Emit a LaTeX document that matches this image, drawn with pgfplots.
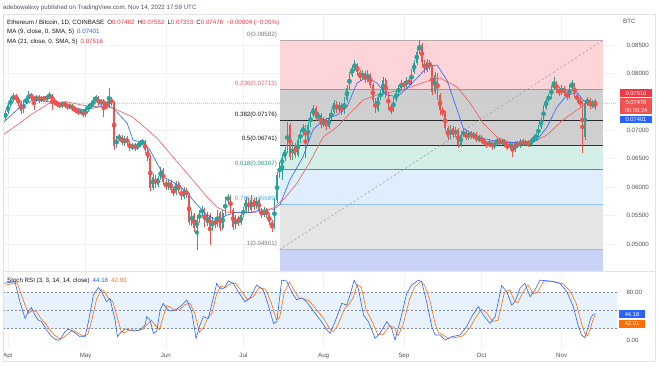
\documentclass[border=0pt]{standalone}
\usepackage{pgfplots}
\pgfplotsset{compat=1.18}
\usepackage{pgfplotstable}
\usepackage{fontspec}
\setmainfont{Liberation Sans}
\newcommand\fs{\fontsize{6.2}{7}\selectfont}
\newcommand\fb{\fontsize{5.8}{6}\selectfont}
\definecolor{upc}{HTML}{26A69A}
\definecolor{dnc}{HTML}{EF5350}
\definecolor{redt}{HTML}{F23645}
\definecolor{ma9}{HTML}{2962FF}
\definecolor{ma21}{HTML}{EE5A5F}
\definecolor{fibr}{HTML}{FDD4D7}
\definecolor{fibg}{HTML}{CFCFCF}
\definecolor{fibt}{HTML}{D3EFE8}
\definecolor{fibb}{HTML}{DFEEFD}
\definecolor{fibgl}{HTML}{E5E5E5}
\definecolor{fibl}{HTML}{C9D2F7}
\definecolor{lz}{HTML}{B9A9AC}
\definecolor{l236}{HTML}{D97C83}
\definecolor{l618}{HTML}{3FA08F}
\definecolor{l786}{HTML}{8EC3F3}
\definecolor{l1}{HTML}{AEB6D6}
\definecolor{t236}{HTML}{E8606B}
\definecolor{t618}{HTML}{2E9C88}
\definecolor{t786}{HTML}{5AAEF5}
\definecolor{tgray}{HTML}{787B86}
\definecolor{tdark}{HTML}{131722}
\definecolor{tickc}{HTML}{50535E}
\definecolor{gridc}{HTML}{F0F2F6}
\definecolor{framec}{HTML}{E0E3EB}
\definecolor{bandc}{HTML}{E8F2FD}
\definecolor{dashc}{HTML}{8A8D96}
\definecolor{orng}{HTML}{FF6D00}
\definecolor{pline}{HTML}{F7B9BD}

\pgfplotstableread{
d o h l c
-1 0.0722 0.0736 0.0716 0.0732
0 0.0732 0.0748 0.0729 0.0744
1 0.0744 0.0759 0.0741 0.0753
2 0.0753 0.0766 0.0750 0.0760
6 0.0734 0.0753 0.0730 0.0750
7 0.0750 0.0759 0.0746 0.0753
8 0.0753 0.0769 0.0750 0.0764
11 0.0753 0.0762 0.0750 0.0759
13 0.0753 0.0760 0.0750 0.0757
15 0.0755 0.0762 0.0752 0.0759
16 0.0759 0.0767 0.0755 0.0762
21 0.0743 0.0752 0.0739 0.0748
24 0.0741 0.0746 0.0737 0.0743
28 0.0732 0.0737 0.0729 0.0734
30 0.0727 0.0741 0.0723 0.0736
31 0.0736 0.0746 0.0732 0.0743
32 0.0743 0.0750 0.0739 0.0744
33 0.0744 0.0759 0.0741 0.0753
34 0.0753 0.0762 0.0750 0.0757
36 0.0746 0.0755 0.0743 0.0752
39 0.0743 0.0774 0.0739 0.0755
42 0.0672 0.0690 0.0669 0.0686
43 0.0686 0.0694 0.0681 0.0688
45 0.0678 0.0690 0.0672 0.0686
48 0.0669 0.0678 0.0665 0.0674
50 0.0669 0.0678 0.0665 0.0674
51 0.0674 0.0683 0.0671 0.0678
52 0.0678 0.0685 0.0674 0.0679
56 0.0599 0.0623 0.0595 0.0618
58 0.0604 0.0620 0.0600 0.0616
59 0.0616 0.0635 0.0613 0.0630
62 0.0600 0.0614 0.0595 0.0609
65 0.0592 0.0611 0.0586 0.0607
68 0.0583 0.0600 0.0579 0.0595
71 0.0539 0.0558 0.0532 0.0551
73 0.0528 0.0551 0.04901 0.0542
74 0.0542 0.0560 0.0537 0.0555
75 0.0555 0.0567 0.0549 0.0560
77 0.0537 0.0556 0.0532 0.0551
79 0.0528 0.0548 0.0523 0.0542
81 0.0533 0.0560 0.0530 0.0555
83 0.0528 0.0560 0.0525 0.0555
84 0.0555 0.0583 0.0551 0.0577
85 0.0577 0.0588 0.0572 0.0583
88 0.0530 0.0551 0.0526 0.0546
90 0.0537 0.0556 0.0533 0.0551
91 0.0551 0.0565 0.0548 0.0560
92 0.0560 0.0583 0.0556 0.0577
94 0.0560 0.0586 0.0556 0.0577
96 0.0565 0.0583 0.0562 0.0577
99 0.0551 0.0565 0.0548 0.0560
103 0.0530 0.0581 0.0526 0.0577
104 0.0577 0.0627 0.0572 0.0621
105 0.0621 0.0644 0.0616 0.0639
106 0.0639 0.0657 0.0613 0.0651
107 0.0651 0.0671 0.0646 0.0665
108 0.0665 0.0715 0.0660 0.0709
110 0.0653 0.0679 0.0648 0.0674
112 0.0657 0.0688 0.0653 0.0683
113 0.0683 0.0701 0.0678 0.0695
114 0.0695 0.0711 0.0690 0.0706
116 0.0683 0.0715 0.0679 0.0709
117 0.0709 0.0732 0.0706 0.0727
118 0.0727 0.0744 0.0723 0.0739
120 0.0722 0.0732 0.0716 0.0727
122 0.0709 0.0723 0.0706 0.0718
124 0.0706 0.0727 0.0702 0.0722
125 0.0722 0.0737 0.0718 0.0732
126 0.0732 0.0753 0.0729 0.0748
128 0.0736 0.0750 0.0732 0.0744
130 0.0732 0.0759 0.0729 0.0753
131 0.0753 0.0780 0.0750 0.0774
132 0.0774 0.0803 0.0771 0.0797
133 0.0797 0.0815 0.0794 0.0810
134 0.0810 0.0824 0.0804 0.0815
137 0.0792 0.0806 0.0788 0.0801
139 0.0788 0.0806 0.0785 0.0797
143 0.0736 0.0764 0.0732 0.0759
144 0.0759 0.0771 0.0753 0.0766
145 0.0766 0.0794 0.0762 0.0788
149 0.0736 0.0759 0.0732 0.0753
150 0.0753 0.0771 0.0750 0.0766
151 0.0766 0.0780 0.0762 0.0774
152 0.0774 0.0788 0.0771 0.0783
154 0.0778 0.0794 0.0774 0.0788
156 0.0783 0.0808 0.0780 0.0803
157 0.0803 0.0824 0.0799 0.0818
158 0.0818 0.0843 0.0815 0.0838
159 0.0838 0.08582 0.0834 0.0850
162 0.0806 0.0825 0.0803 0.0820
165 0.0767 0.0803 0.0764 0.0797
171 0.0688 0.0709 0.0685 0.0704
173 0.0692 0.0706 0.0688 0.0701
175 0.0674 0.0697 0.0671 0.0692
176 0.0692 0.0702 0.0688 0.0697
178 0.0686 0.0699 0.0683 0.0695
180 0.0688 0.0697 0.0685 0.0694
182 0.0683 0.0692 0.0679 0.0688
186 0.0674 0.0683 0.0671 0.0679
188 0.0671 0.0681 0.0667 0.0678
189 0.0678 0.0686 0.0674 0.0683
191 0.0678 0.0685 0.0674 0.0681
194 0.0671 0.0679 0.0667 0.0676
196 0.0665 0.0681 0.0662 0.0678
198 0.0672 0.0685 0.0669 0.0681
200 0.0676 0.0683 0.0672 0.0679
202 0.0674 0.0685 0.0671 0.0681
203 0.0681 0.0690 0.0678 0.0686
204 0.0686 0.0695 0.0683 0.0692
205 0.0692 0.0709 0.0688 0.0706
206 0.0706 0.0723 0.0702 0.0718
207 0.0718 0.0744 0.0715 0.0739
208 0.0739 0.0759 0.0736 0.0753
209 0.0753 0.0764 0.0750 0.0759
210 0.0759 0.0780 0.0755 0.0774
211 0.0774 0.0794 0.0771 0.0783
214 0.0766 0.0780 0.0762 0.0774
217 0.0759 0.0781 0.0755 0.0776
218 0.0776 0.0788 0.0773 0.0780
223 0.0688 0.0753 0.0683 0.0748
224 0.0748 0.0759 0.0743 0.0753
226 0.0743 0.0753 0.0739 0.07482
}\up

\pgfplotstableread{
d o h l c
3 0.0760 0.0764 0.0752 0.0755
4 0.0755 0.0759 0.0743 0.0748
5 0.0748 0.0752 0.0729 0.0734
9 0.0764 0.0766 0.0753 0.0757
10 0.0757 0.0760 0.0736 0.0753
12 0.0759 0.0762 0.0748 0.0753
14 0.0757 0.0760 0.0752 0.0755
17 0.0762 0.0764 0.0736 0.0753
18 0.0753 0.0757 0.0744 0.0748
19 0.0748 0.0752 0.0741 0.0746
20 0.0746 0.0750 0.0739 0.0743
22 0.0748 0.0752 0.0739 0.0744
23 0.0744 0.0748 0.0736 0.0741
25 0.0743 0.0746 0.0734 0.0737
26 0.0737 0.0741 0.0730 0.0736
27 0.0736 0.0739 0.0727 0.0732
29 0.0734 0.0737 0.0723 0.0727
35 0.0757 0.0760 0.0743 0.0746
37 0.0752 0.0755 0.0723 0.0746
38 0.0746 0.0750 0.0737 0.0743
40 0.0755 0.0759 0.0743 0.0748
41 0.0748 0.0752 0.0665 0.0672
44 0.0688 0.0692 0.0674 0.0678
46 0.0686 0.0690 0.0674 0.0678
47 0.0678 0.0681 0.0664 0.0669
49 0.0674 0.0678 0.0664 0.0669
53 0.0679 0.0683 0.0660 0.0665
54 0.0665 0.0669 0.0646 0.0651
55 0.0651 0.0657 0.0593 0.0599
57 0.0618 0.0621 0.0599 0.0604
60 0.0630 0.0634 0.0604 0.0609
61 0.0609 0.0613 0.0595 0.0600
63 0.0609 0.0613 0.0590 0.0595
64 0.0595 0.0600 0.0584 0.0592
66 0.0607 0.0611 0.0590 0.0595
67 0.0595 0.0599 0.0577 0.0583
69 0.0595 0.0599 0.0581 0.0586
70 0.0586 0.0590 0.0533 0.0539
72 0.0551 0.0555 0.0521 0.0528
76 0.0560 0.0563 0.0530 0.0537
78 0.0551 0.0555 0.0498 0.0528
80 0.0542 0.0548 0.0528 0.0533
82 0.0555 0.0558 0.0523 0.0528
86 0.0583 0.0586 0.0555 0.0560
87 0.0560 0.0563 0.0525 0.0530
89 0.0546 0.0549 0.0532 0.0537
93 0.0577 0.0581 0.0555 0.0560
95 0.0577 0.0581 0.0560 0.0565
97 0.0577 0.0581 0.0556 0.0560
98 0.0560 0.0563 0.0546 0.0551
100 0.0560 0.0563 0.0546 0.0551
101 0.0551 0.0555 0.0533 0.0539
102 0.0539 0.0542 0.0521 0.0530
109 0.0709 0.0713 0.0648 0.0653
111 0.0674 0.0678 0.0651 0.0657
115 0.0706 0.0709 0.0651 0.0683
119 0.0739 0.0743 0.0716 0.0722
121 0.0727 0.0730 0.0704 0.0709
123 0.0718 0.0722 0.0701 0.0706
127 0.0748 0.0752 0.0730 0.0736
129 0.0744 0.0748 0.0727 0.0732
135 0.0815 0.0818 0.0797 0.0803
136 0.0803 0.0806 0.0787 0.0792
138 0.0801 0.0804 0.0783 0.0788
140 0.0797 0.0801 0.0774 0.0780
141 0.0780 0.0783 0.0748 0.0753
142 0.0753 0.0757 0.0730 0.0736
146 0.0788 0.0792 0.0757 0.0762
147 0.0762 0.0766 0.0736 0.0741
148 0.0741 0.0744 0.0729 0.0736
153 0.0783 0.0787 0.0773 0.0778
155 0.0788 0.0792 0.0778 0.0783
160 0.0850 0.0854 0.0815 0.0820
161 0.0820 0.0824 0.0801 0.0806
163 0.0820 0.0824 0.0806 0.0811
164 0.0811 0.0815 0.0762 0.0767
166 0.0797 0.0801 0.0753 0.0762
167 0.0762 0.0766 0.0727 0.0736
168 0.0736 0.0741 0.0725 0.0730
169 0.0730 0.0734 0.0699 0.0704
170 0.0704 0.0708 0.0683 0.0688
172 0.0704 0.0708 0.0686 0.0692
174 0.0701 0.0704 0.0669 0.0674
177 0.0697 0.0701 0.0683 0.0686
179 0.0695 0.0699 0.0685 0.0688
181 0.0694 0.0697 0.0679 0.0683
183 0.0688 0.0692 0.0678 0.0681
184 0.0681 0.0685 0.0674 0.0678
185 0.0678 0.0681 0.0669 0.0674
187 0.0679 0.0683 0.0665 0.0671
190 0.0683 0.0686 0.0674 0.0678
192 0.0681 0.0685 0.0671 0.0674
193 0.0674 0.0678 0.0665 0.0671
195 0.0676 0.0679 0.0653 0.0665
197 0.0678 0.0681 0.0669 0.0672
199 0.0681 0.0685 0.0672 0.0676
201 0.0679 0.0683 0.0671 0.0674
212 0.0783 0.0787 0.0766 0.0771
213 0.0771 0.0776 0.0760 0.0766
215 0.0774 0.0778 0.0760 0.0766
216 0.0766 0.0769 0.0753 0.0759
219 0.0780 0.0783 0.0757 0.0762
220 0.0762 0.0766 0.0748 0.0753
221 0.0753 0.0757 0.0741 0.0748
222 0.0748 0.0752 0.0660 0.0688
225 0.0753 0.0757 0.0737 0.0743
227 0.07482 0.07552 0.07353 0.07478
}\down

\pgfplotstableread{
d p
-1.93 0.0713
4.64 0.0741
9.66 0.0753
16.2 0.0750
22.8 0.0744
29.0 0.0736
32.9 0.0739
38.3 0.0744
40.6 0.0739
46.0 0.0713
48.3 0.0683
52.2 0.0678
54.9 0.0665
60.7 0.0616
63.8 0.0609
69.2 0.0592
71.5 0.0577
76.9 0.0551
80.8 0.0542
84.7 0.0551
88.5 0.0556
93.5 0.0555
97.4 0.0560
102.4 0.0560
105.1 0.0569
109.0 0.0613
114.0 0.0653
117.9 0.0701
121.8 0.0718
127.2 0.0727
131.0 0.0741
134.9 0.0783
138.8 0.0794
142.6 0.0783
146.5 0.0762
150.4 0.0759
154.2 0.0774
158.1 0.0792
162.0 0.0811
165.8 0.0815
169.7 0.0788
173.6 0.0736
175.9 0.0704
181.3 0.0688
186.3 0.0683
191.3 0.0679
197.9 0.0678
201.8 0.0678
204.5 0.0683
208.4 0.0706
212.2 0.0741
216.1 0.0762
220.0 0.0766
222.3 0.0753
225.0 0.0744
227 0.07401
}\maA

\pgfplotstableread{
d p
-1.93 0.0692
4.64 0.0713
9.66 0.0730
16.2 0.0748
22.8 0.0750
29.0 0.0744
35.6 0.0741
40.6 0.0739
48.3 0.0723
54.9 0.0697
57.6 0.0686
63.8 0.0653
70.4 0.0618
76.9 0.0583
80.8 0.0565
84.7 0.0556
89.7 0.0555
96.2 0.0556
102.4 0.0563
107.1 0.0581
111.7 0.0607
116.7 0.0644
121.8 0.0688
127.2 0.0706
132.2 0.0730
137.2 0.0753
142.6 0.0762
147.7 0.0767
152.7 0.0771
158.1 0.0780
163.1 0.0788
167.0 0.0792
173.6 0.0776
178.6 0.0748
183.6 0.0713
189.0 0.0688
194.0 0.0679
199.1 0.0678
203.0 0.0679
208.4 0.0692
214.5 0.0718
220.0 0.0736
223.9 0.0748
227 0.07516
}\maB

\pgfplotstableread{
d v
-1.8 94.8
2.7 97.6
4.6 64.5
6.6 37
7.9 48
9.1 54.6
10.4 42.5
11.7 34.2
13 31.5
14.9 17.7
16.9 6.7
18.8 1.2
20.1 1.2
22 14.9
23.3 19.3
25.3 14.9
27.8 6.7
29.8 6.7
31.1 31.5
33 75.5
34.9 87.7
36.2 81
38.1 64.5
39.4 70
41.4 34.2
42.3 6.7
43.3 12.2
45.2 19.3
47.2 17.7
49.1 16
51 17.7
53 25.9
53.6 39.7
54.9 34.2
56.2 12.2
57.5 16
58.8 50.7
60 61.7
61.3 53.4
62.6 49.1
64.6 50.7
66.5 56.3
69.1 67.3
71 48
72.7 3.9
74.2 25.9
75.5 39.7
77.4 37
78.7 59
80.7 94.8
81.9 86.6
83.5 86.6
85.2 98.7
87.1 94.8
89 81
91.6 64.5
93.5 70
96.1 92
98.7 83.8
100.6 59
102.6 28.7
103.9 31.5
105.8 100
107.7 98.7
109.6 81
111.6 67.3
113.5 71.1
115.4 64.5
118.7 45.3
121.2 31.5
123.2 17.7
124.5 12.2
126.4 31.5
129 61.7
130.9 59
132.2 75.5
133.8 100
135.4 86.6
137.4 42.5
139.3 31.5
141.9 3.9
143.8 12.2
146.4 31.5
148.3 20.4
149.6 1.2
151.5 31.5
154.1 78.3
156 92
158.6 100
159.9 97.6
161.8 64.5
163.8 23.2
165.1 9.4
167 9.4
169 1.2
171.5 6.7
174.7 9.4
177.3 23.2
179.2 39.7
181.8 56.3
183.7 42.5
186.3 28.7
188.3 39.7
190.8 91
192.8 81
194.7 59
196 64.5
197.9 86.6
199.8 94.8
201.8 72.8
203.7 83.8
205.6 100
209.5 98.7
213.4 94.8
216 81
218.5 56.3
220.5 23.2
221.7 9.4
223 5
224.2 22
225.3 38
226.3 44
227 44.18
}\kk

\pgfplotstableread{
d v
-1 92
3.5 96
5.5 72
7.8 45
9.5 50
11 48
12.5 38
14.2 30
16 19
18 9
20 3
21.5 5
23.3 12
24.8 17
26.5 14
28.8 8
30.8 10
32.3 32
34.2 68
36 85
37.4 80
39.3 68
40.6 64
42.5 34
43.8 15
45 13
46.6 17
48.5 18
50.3 17
52.2 19
54 28
55.4 34
57 25
58.6 18
60 40
61.5 58
62.9 55
64.5 50
66.5 52
68.5 60
70.3 62
72.2 45
74 14
75.6 22
77 36
78.8 45
80.5 75
82.2 90
84 88
86 94
88 95
90.2 82
92.5 68
94.6 72
97.2 88
99.6 85
101.8 62
103.7 35
105 38
106.8 80
108.8 97
110.6 83
112.6 70
114.5 69
116.4 66
119.7 49
122.3 35
124.3 20
125.8 15
127.5 26
130 52
132 62
133.3 70
135 93
136.6 88
138.5 50
140.4 35
143 10
145 10
147.4 25
149.3 22
150.7 8
152.6 25
155.2 68
157.1 88
159.6 98
161 92
163 68
165 30
166.3 14
168 10
170 4
172.6 5
175.8 8
178.4 20
180.3 35
183 52
184.8 47
187.4 32
189.4 34
191.9 80
194 84
195.8 65
197.1 63
199 80
201 92
203 78
204.8 80
206.8 97
210.6 98
214.5 94
217.1 83
219.6 62
221.6 30
222.8 14
224 8
225 18
226 33
227 42.91
}\dd

\begin{document}
\begin{tikzpicture}[x=1bp,y=1bp]
\useasboundingbox (0,0) rectangle (660,366);
\fill[white] (0,0) rectangle (660,366);

\begin{axis}[at={(3bp,95bp)}, anchor=south west, scale only axis,
  width=614bp, height=256.7bp,
  xmin=-1.93, xmax=235.4, ymin=0.045253, ymax=0.090399,
  axis line style={draw=none}, tick style={draw=none},
  scaled y ticks=false, scaled x ticks=false,
  xtick={0,30,61,91,122,153,183,214}, xticklabels={},
  ytick={0.05,0.055,0.06,0.065,0.07,0.075,0.08,0.085},
  yticklabels={0.05000,0.05500,0.06000,0.06500,0.07000,{},0.08000,0.08500},
  yticklabel pos=right,
  yticklabel style={anchor=west, xshift=6bp, font=\fs, text=tickc},
  grid=major, major grid style={gridc, line width=0.5bp}]
% fib zones
\addplot[fill=fibr, draw=none] coordinates {(104.95,0.07713) (104.95,0.08582) (230,0.08582) (230,0.07713)} --cycle;
\addplot[fill=fibg, draw=none] coordinates {(104.95,0.06741) (104.95,0.07713) (230,0.07713) (230,0.06741)} --cycle;
\addplot[fill=fibt, draw=none] coordinates {(104.95,0.06307) (104.95,0.06741) (230,0.06741) (230,0.06307)} --cycle;
\addplot[fill=fibb, draw=none] coordinates {(104.95,0.05689) (104.95,0.06307) (230,0.06307) (230,0.05689)} --cycle;
\addplot[fill=fibgl, draw=none] coordinates {(104.95,0.04901) (104.95,0.05689) (230,0.05689) (230,0.04901)} --cycle;
\addplot[fill=fibl, draw=none] coordinates {(104.95,0.0440) (104.95,0.04901) (230,0.04901) (230,0.0440)} --cycle;
\addplot[lz, line width=0.8bp] coordinates {(104.95,0.08582) (230,0.08582)};
\addplot[l236, line width=1bp] coordinates {(104.95,0.07713) (230,0.07713)};
\addplot[black!85, line width=1bp] coordinates {(104.95,0.07176) (230,0.07176)};
\addplot[black!80, line width=1bp] coordinates {(104.95,0.06741) (230,0.06741)};
\addplot[l618, line width=0.9bp] coordinates {(104.95,0.06307) (230,0.06307)};
\addplot[l786, line width=0.8bp] coordinates {(104.95,0.05689) (230,0.05689)};
\addplot[l1, line width=0.8bp] coordinates {(104.95,0.04901) (230,0.04901)};
\addplot[gray!70, line width=0.6bp, dash pattern=on 2.2bp off 2.2bp] coordinates {(104.95,0.04901) (230,0.08582)};
% fib labels
\node[anchor=south east, inner sep=0, font=\fs, text=tgray, yshift=2.8bp] at (axis cs:104,0.08582) {0(0.08582)};
\node[anchor=south east, inner sep=0, font=\fs, text=t236, yshift=2.8bp] at (axis cs:104,0.07713) {0.236(0.07713)};
\node[anchor=south east, inner sep=0, font=\fs, text=tdark, yshift=2.8bp] at (axis cs:104,0.07176) {0.382(0.07176)};
\node[anchor=south east, inner sep=0, font=\fs, text=tdark, yshift=2.8bp] at (axis cs:104,0.06741) {0.5(0.06741)};
\node[anchor=south east, inner sep=0, font=\fs, text=t618, yshift=2.8bp] at (axis cs:104,0.06307) {0.618(0.06307)};
\node[anchor=south east, inner sep=0, font=\fs, text=t786, yshift=2.8bp] at (axis cs:104,0.05689) {0.786(0.05689)};
\node[anchor=south east, inner sep=0, font=\fs, text=tgray, yshift=2.8bp] at (axis cs:104,0.04901) {1(0.04901)};
% last price line
\addplot[pline, line width=0.4bp, dash pattern=on 1bp off 1bp] coordinates {(-5,0.07478) (240,0.07478)};
% candles: wicks
\addplot[color=upc, only marks, mark=none, forget plot, error bars/.cd, y dir=both, y explicit, error mark=none, error bar style={line width=0.5bp, color=upc}]
  table[x=d, y expr={(\thisrow{h}+\thisrow{l})/2}, y error expr={(\thisrow{h}-\thisrow{l})/2}] {\up};
\addplot[color=dnc, only marks, mark=none, forget plot, error bars/.cd, y dir=both, y explicit, error mark=none, error bar style={line width=0.5bp, color=dnc}]
  table[x=d, y expr={(\thisrow{h}+\thisrow{l})/2}, y error expr={(\thisrow{h}-\thisrow{l})/2}] {\down};
% bodies
\addplot[color=upc, only marks, mark=none, forget plot, error bars/.cd, y dir=both, y explicit, error mark=none, error bar style={line width=1.6bp, color=upc}]
  table[x=d, y expr={(\thisrow{o}+\thisrow{c})/2}, y error expr={max(abs(\thisrow{c}-\thisrow{o})/2,0.00005)}] {\up};
\addplot[color=dnc, only marks, mark=none, forget plot, error bars/.cd, y dir=both, y explicit, error mark=none, error bar style={line width=1.6bp, color=dnc}]
  table[x=d, y expr={(\thisrow{o}+\thisrow{c})/2}, y error expr={max(abs(\thisrow{c}-\thisrow{o})/2,0.00005)}] {\down};
% moving averages
\addplot[ma21, line width=0.6bp] table[x=d, y=p] {\maB};
\addplot[ma9, line width=0.6bp] table[x=d, y=p] {\maA};
\end{axis}

\begin{axis}[at={(3bp,19bp)}, anchor=south west, scale only axis,
  width=614bp, height=75bp,
  xmin=-1.93, xmax=235.4, ymin=-10.4, ymax=113.55,
  axis line style={draw=none}, tick style={draw=none},
  xtick={0,30,61,91,122,153,183,214},
  xticklabels={Apr,May,Jun,Jul,Aug,Sep,Oct,Nov},
  xticklabel style={font=\fs, text=tickc, yshift=-2.5bp},
  ytick={0,80}, yticklabels={0.00,80.00},
  yticklabel pos=right,
  yticklabel style={anchor=west, xshift=6bp, font=\fs, text=tickc},
  xmajorgrids, major grid style={gridc, line width=0.5bp}]
\addplot[fill=bandc, draw=none] coordinates {(-5,20) (-5,80) (240,80) (240,20)} --cycle;
\addplot[dashc, line width=0.5bp, dash pattern=on 2bp off 2bp] coordinates {(-5,80) (240,80)};
\addplot[dashc, line width=0.5bp, dash pattern=on 2bp off 2bp] coordinates {(-5,50) (240,50)};
\addplot[dashc, line width=0.5bp, dash pattern=on 2bp off 2bp] coordinates {(-5,20) (240,20)};
\addplot[orng, line width=0.6bp] table[x=d, y=v] {\dd};
\addplot[ma9, line width=0.6bp] table[x=d, y=v] {\kk};
\end{axis}

% frame
\draw[framec, line width=0.5bp] (3,5) rectangle (655,351.7);
\draw[framec, line width=0.5bp] (3,94.5) -- (655,94.5);

% header texts
\node[anchor=west, inner sep=0, font=\fs, text=tickc] at (3,358.5) {adebowalexy published on TradingView.com, Nov 14, 2022 17:59 UTC};
\node[anchor=west, inner sep=0, font=\fs, text=tdark] at (7,343.3) {Ethereum / Bitcoin, 1D, COINBASE\enspace O\textcolor{redt}{0.07482}\enspace H\textcolor{redt}{0.07552}\enspace L\textcolor{redt}{0.07353}\enspace C\textcolor{redt}{0.07478}\enspace\textcolor{redt}{−0.00004 (−0.05\%)}};
\node[anchor=west, inner sep=0, font=\fs, text=tdark] at (7,334) {MA (9, close, 0, SMA, 5)\enspace\textcolor{ma9}{0.07401}};
\node[anchor=west, inner sep=0, font=\fs, text=tdark] at (7,324.3) {MA (21, close, 0, SMA, 5)\enspace\textcolor{redt}{0.07516}};
\node[anchor=west, inner sep=0, font=\fs, text=tdark] at (7,85.3) {Stoch RSI (3, 3, 14, 14, close)\enspace\textcolor{ma9}{44.18}\enspace\textcolor{orng}{42.91}};
\node[anchor=west, inner sep=0, font=\fs, text=tickc] at (623,344.3) {BTC};

% price scale markers
\fill[redt] (620,268.9) rectangle (652,276.7);
\fill[dnc] (620,251.6) rectangle (652,267.8);
\fill[ma9] (620,242.7) rectangle (652,250.5);
\node[text=white, font=\fb, inner sep=0] at (636,272.8) {0.07516};
\node[text=white, font=\fb, inner sep=0] at (636,263.6) {0.07478};
\node[text=white!85!dnc, font=\fb, inner sep=0] at (636,255.6) {06:00:24};
\node[text=white, font=\fb, inner sep=0] at (636,246.6) {0.07401};
\fill[ma9] (619,47.6) rectangle (645,55.8);
\fill[orng] (619,37.9) rectangle (645,46.1);
\node[text=white, font=\fb, inner sep=0] at (632,51.7) {44.18};
\node[text=white, font=\fb, inner sep=0] at (632,42) {42.91};
\end{tikzpicture}
\end{document}
